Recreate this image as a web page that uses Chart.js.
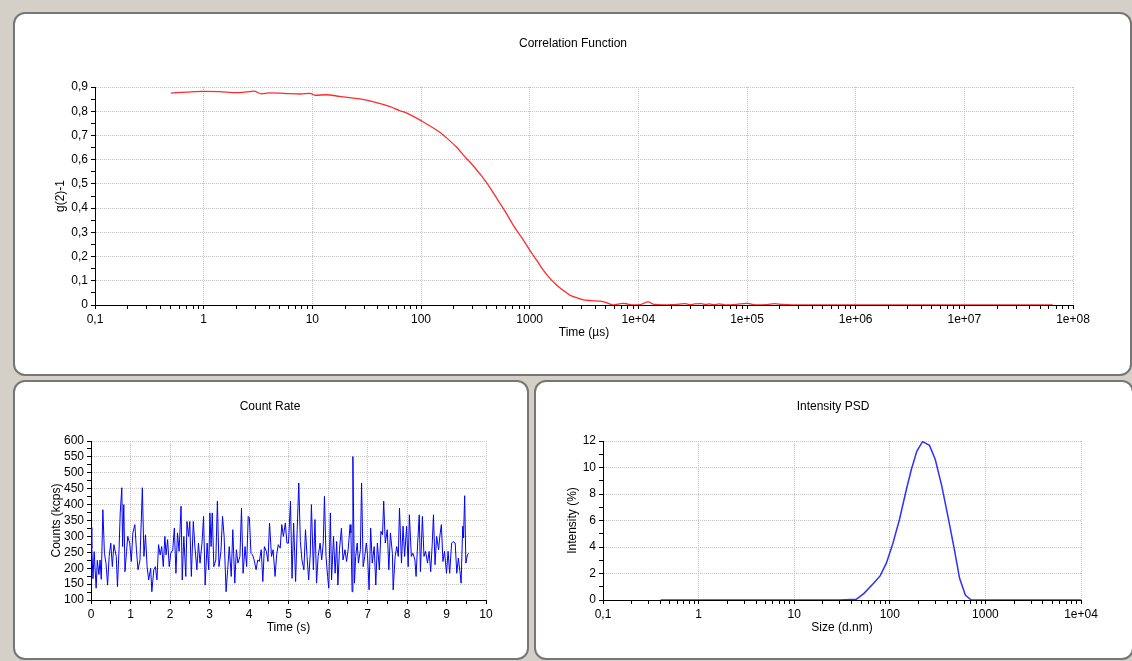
<!DOCTYPE html>
<html>
<head>
<meta charset="utf-8">
<title>Size measurement report</title>
<script src="https://cdn.jsdelivr.net/npm/chart.js@4.4.1/dist/chart.umd.min.js"></script>
<style>
    html, body { margin: 0; padding: 0; }
    body {
        width: 1132px; height: 661px; overflow: hidden; position: relative;
        background: #d4d0c8;
        font-family: 'Liberation Sans', Arial, sans-serif;
    }
    .panel {
        position: absolute; background: #fff; box-sizing: border-box;
        border: 2px solid #767676; border-radius: 12px;
    }
    canvas { position: absolute; }
</style>
</head>
<body>
<div class="panel" style="left:13px;top:12px;width:1119px;height:364px"></div>
<div class="panel" style="left:13px;top:380px;width:516px;height:280px"></div>
<div class="panel" style="left:534px;top:380px;width:600px;height:280px"></div>

<canvas id="corrChart" width="1106" height="331" style="left:20px;top:14px"></canvas>
<canvas id="countChart" width="500" height="258" style="left:20px;top:382px"></canvas>
<canvas id="psdChart" width="576" height="258" style="left:545px;top:382px"></canvas>

<script>
// ============================================
// DATA
// ============================================

// Correlation function: delay time (µs) vs g(2)-1
const corrTime = [0.5, 0.7, 1, 1.4, 2, 2.5, 2.9, 3.4, 4, 5,
    6, 7.7, 9.5, 10.6, 13.5, 17.9, 22, 27.4, 36, 52,
    64, 74, 100, 149, 172, 212, 262, 302, 350, 401,
    460, 532, 610, 705, 840, 1000, 1160, 1330, 1520, 1766,
    2040, 2344, 2700, 3107, 3700, 4430, 5090, 5870, 6500, 7250,
    8000, 8950, 10500, 12300, 14000, 17000, 20000, 24000, 27000, 30000,
    33000, 38000, 42000, 45000, 50000, 55000, 65000, 80000, 100000, 120000,
    150000, 180000, 210000, 260000, 400000, 1e6, 1e7, 6.5e7];
const corrValue = [0.875, 0.879, 0.882, 0.881, 0.877, 0.880, 0.883, 0.872, 0.876, 0.875,
    0.873, 0.871, 0.874, 0.866, 0.868, 0.861, 0.856, 0.851, 0.840, 0.819,
    0.802, 0.792, 0.761, 0.713, 0.690, 0.652, 0.605, 0.575, 0.540, 0.505,
    0.465, 0.420, 0.378, 0.330, 0.280, 0.227, 0.185, 0.145, 0.112, 0.083,
    0.060, 0.041, 0.030, 0.021, 0.018, 0.016, 0.010, 0.000, 0.004, 0.007,
    0.004, 0.000, 0.002, 0.013, 0.002, 0.000, 0.001, 0.004, 0.006, 0.001,
    0.005, 0.006, 0.002, 0.005, 0.001, 0.005, 0.000, 0.003, 0.007, 0.000,
    0.001, 0.006, 0.002, 0.000, 0.000, 0.000, 0.000, 0.000];
const corrXLabels = ['0,1', '1', '10', '100', '1000', '1e+04', '1e+05', '1e+06', '1e+07', '1e+08'];
const corrYLabels = ['0', '0,1', '0,2', '0,3', '0,4', '0,5', '0,6', '0,7', '0,8', '0,9'];

// Count rate: time (s) vs counts (kcps)
const crTime = [0.00, 0.02, 0.05, 0.08, 0.13, 0.16, 0.20, 0.23, 0.26, 0.30,
    0.34, 0.38, 0.42, 0.46, 0.50, 0.54, 0.58, 0.64, 0.67, 0.71,
    0.74, 0.78, 0.80, 0.83, 0.86, 0.90, 0.93, 0.98, 1.02, 1.06,
    1.11, 1.15, 1.19, 1.24, 1.30, 1.34, 1.38, 1.42, 1.46, 1.51,
    1.54, 1.59, 1.63, 1.67, 1.71, 1.75, 1.79, 1.83, 1.87, 1.90,
    1.94, 1.98, 2.02, 2.07, 2.11, 2.15, 2.19, 2.23, 2.28, 2.31,
    2.35, 2.40, 2.43, 2.47, 2.50, 2.54, 2.59, 2.63, 2.68, 2.72,
    2.76, 2.81, 2.85, 2.89, 2.94, 2.98, 3.01, 3.04, 3.07, 3.11,
    3.16, 3.20, 3.24, 3.29, 3.33, 3.37, 3.42, 3.46, 3.50, 3.55,
    3.59, 3.64, 3.68, 3.72, 3.77, 3.81, 3.85, 3.90, 3.94, 3.98,
    4.01, 4.05, 4.09, 4.13, 4.18, 4.22, 4.26, 4.31, 4.35, 4.39,
    4.44, 4.48, 4.52, 4.57, 4.61, 4.66, 4.70, 4.74, 4.79, 4.83,
    4.87, 4.92, 4.96, 5.00, 5.05, 5.09, 5.13, 5.18, 5.22, 5.26,
    5.30, 5.34, 5.39, 5.43, 5.47, 5.51, 5.55, 5.58, 5.63, 5.67,
    5.71, 5.75, 5.80, 5.84, 5.88, 5.91, 5.95, 5.99, 6.02, 6.06,
    6.09, 6.14, 6.18, 6.22, 6.25, 6.29, 6.34, 6.38, 6.43, 6.47,
    6.51, 6.56, 6.58, 6.61, 6.63, 6.67, 6.70, 6.74, 6.77, 6.82,
    6.85, 6.89, 6.93, 6.97, 7.00, 7.04, 7.08, 7.12, 7.17, 7.21,
    7.25, 7.30, 7.34, 7.38, 7.41, 7.45, 7.50, 7.54, 7.58, 7.63,
    7.65, 7.70, 7.74, 7.78, 7.81, 7.86, 7.90, 7.94, 7.99, 8.03,
    8.06, 8.11, 8.15, 8.20, 8.23, 8.27, 8.31, 8.34, 8.39, 8.43,
    8.47, 8.52, 8.56, 8.60, 8.64, 8.67, 8.71, 8.75, 8.80, 8.83,
    8.87, 8.91, 8.95, 9.00, 9.04, 9.08, 9.13, 9.17, 9.22, 9.26,
    9.30, 9.35, 9.37, 9.41, 9.43, 9.46, 9.49, 9.53, 9.56];
const crCounts = [328, 262, 167, 252, 137, 225, 180, 226, 165, 384,
    247, 215, 147, 237, 279, 205, 274, 237, 142, 258,
    374, 453, 268, 400, 189, 253, 300, 279, 221, 311,
    337, 258, 195, 226, 453, 237, 305, 205, 163, 200,
    126, 195, 205, 163, 274, 242, 268, 205, 300, 242,
    290, 205, 247, 258, 326, 184, 311, 253, 395, 163,
    300, 174, 347, 300, 347, 174, 347, 268, 195, 279,
    216, 279, 363, 147, 279, 195, 374, 268, 374, 205,
    226, 411, 205, 253, 363, 300, 126, 195, 268, 174,
    321, 153, 258, 216, 237, 389, 184, 268, 205, 363,
    358, 247, 242, 226, 195, 226, 221, 258, 158, 268,
    253, 221, 342, 237, 258, 174, 242, 274, 263, 337,
    300, 342, 279, 279, 411, 168, 342, 158, 321, 468,
    284, 226, 195, 321, 237, 163, 242, 400, 195, 353,
    153, 237, 279, 226, 279, 426, 237, 174, 137, 374,
    163, 300, 184, 284, 147, 258, 326, 226, 258, 221,
    258, 337, 311, 126, 551, 153, 237, 279, 216, 258,
    468, 205, 237, 279, 242, 132, 326, 216, 268, 147,
    279, 195, 316, 305, 411, 279, 321, 195, 311, 247,
    132, 237, 268, 237, 389, 216, 332, 237, 332, 205,
    368, 237, 247, 226, 174, 279, 368, 189, 363, 237,
    253, 216, 253, 189, 279, 368, 211, 300, 258, 300,
    337, 221, 253, 184, 253, 184, 279, 284, 279, 184,
    232, 179, 153, 332, 295, 428, 216, 242, 247];
const crXLabels = ['0', '1', '2', '3', '4', '5', '6', '7', '8', '9', '10'];
const crYLabels = ['100', '150', '200', '250', '300', '350', '400', '450', '500', '550', '600'];

// Intensity PSD: size (d.nm) vs intensity (%)
const psdSize = [0.4, 1, 10, 30, 44.6, 53.7, 67.7, 79.2, 92, 108,
    126, 149, 168, 192, 220, 260, 299, 350, 406, 467,
    537, 617, 709, 1000, 10000];
const psdIntensity = [0, 0, 0, 0, 0.05, 0.5, 1.26, 1.82, 2.78, 4.3,
    6.06, 8.34, 9.85, 11.24, 11.95, 11.67, 10.6, 8.6, 6.3, 4.04,
    1.64, 0.38, 0, 0, 0];
const psdXLabels = ['0,1', '1', '10', '100', '1000', '1e+04'];
const psdYLabels = ['0', '2', '4', '6', '8', '10', '12'];

// ============================================
// HELPERS
// ============================================

const GRID_COLOR = '#c2c2c2';

Chart.defaults.font.family = "'Liberation Sans', Arial, sans-serif";
Chart.defaults.font.size = 12;
Chart.defaults.color = '#000';

function isDecade(v) {
    const l = Math.log10(v);
    return Math.abs(l - Math.round(l)) < 1e-9;
}

// 1..9 x 10^e for every decade, so the minor tick marks show
function decadeTicks(lo, hi) {
    const out = [];
    for (let e = lo; e < hi; e++) {
        for (let k = 1; k < 10; k++) out.push({ value: k * Math.pow(10, e) });
    }
    out.push({ value: Math.pow(10, hi) });
    return out;
}

function logLabeler(labels, lo) {
    return v => isDecade(v) ? labels[Math.round(Math.log10(v)) - lo] : '';
}

function stepLabeler(labels, start, step) {
    return v => {
        const i = Math.round((v - start) / step);
        return Math.abs(v - start - i * step) < 1e-6 ? (labels[i] || '') : '';
    };
}

function axisBase(labelFn) {
    return {
        grid: {
            color: c => (c.tick && labelFn(c.tick.value) !== '') ? GRID_COLOR : 'rgba(0,0,0,0)',
            tickColor: '#000',
            tickLength: 4,
            lineWidth: 1
        },
        border: { color: '#000', width: 1, dash: [1, 1] },
        ticks: { autoSkip: false, maxRotation: 0, minRotation: 0, padding: 3, callback: v => labelFn(v) }
    };
}

function makePlot(id, p) {
    const xBase = axisBase(p.xLabel);
    const yBase = axisBase(p.yLabel);

    const xAxis = Object.assign(xBase, {
        type: p.xType,
        min: p.xMin,
        max: p.xMax,
        title: { display: true, text: p.xTitle, padding: { top: 0, bottom: 5 } },
        afterFit: s => { s.height = 40; }
    });
    if (p.xType === 'logarithmic') {
        xAxis.afterBuildTicks = s => { s.ticks = decadeTicks(p.xDecLo, p.xDecHi); };
    } else {
        xAxis.ticks.stepSize = p.xStep;
    }

    const yAxis = Object.assign(yBase, {
        type: 'linear',
        position: 'left',
        min: p.yMin,
        max: p.yMax,
        title: { display: true, text: p.yTitle, padding: { top: p.yTitlePad, bottom: 0 } },
        afterFit: s => { s.width = p.yWidth; }
    });
    yAxis.ticks.stepSize = p.yStep;

    return new Chart(document.getElementById(id), {
        type: 'line',
        data: {
            datasets: [{
                data: p.xs.map((x, i) => ({ x: x, y: p.ys[i] })),
                borderColor: p.color,
                borderWidth: p.lineWidth,
                pointRadius: 0,
                fill: false,
                tension: 0,
                cubicInterpolationMode: p.smooth ? 'monotone' : 'default',
                xAxisID: 'x',
                yAxisID: 'y'
            }]
        },
        options: {
            responsive: false,
            animation: false,
            devicePixelRatio: 1,
            layout: { padding: 0 },
            plugins: {
                legend: { display: false },
                tooltip: { enabled: false },
                title: {
                    display: true,
                    text: p.title,
                    font: { size: 12, weight: 'normal' },
                    color: '#000',
                    padding: { top: p.titleTop, bottom: p.titleBottom }
                }
            },
            scales: {
                x: xAxis,
                y: yAxis,
                // empty right-hand box so the title centres like the original
                yR: {
                    type: 'linear',
                    position: 'right',
                    grid: { display: false },
                    ticks: { display: false },
                    border: { display: false },
                    afterFit: s => { s.width = p.rightWidth; }
                }
            }
        }
    });
}

// ============================================
// CHARTS
// ============================================

makePlot('corrChart', {
    title: 'Correlation Function',
    titleTop: 22, titleBottom: 36.6,
    xs: corrTime, ys: corrValue,
    color: 'rgba(255, 20, 20, 0.9)', lineWidth: 1.3, smooth: true,
    xType: 'logarithmic', xMin: 0.1, xMax: 1e8, xDecLo: -1, xDecHi: 8,
    xLabel: logLabeler(corrXLabels, -1),
    xTitle: 'Time (µs)',
    yMin: 0, yMax: 0.9, yStep: 0.05,
    yLabel: stepLabeler(corrYLabels, 0, 0.1),
    yTitle: 'g(2)-1', yTitlePad: 33.8,
    yWidth: 75, rightWidth: 53
});

makePlot('countChart', {
    title: 'Count Rate',
    titleTop: 17.8, titleBottom: 26.8,
    xs: crTime, ys: crCounts,
    color: '#0000ff', lineWidth: 1,
    xType: 'linear', xMin: 0, xMax: 10, xStep: 0.5,
    xLabel: stepLabeler(crXLabels, 0, 1),
    xTitle: 'Time (s)',
    yMin: 100, yMax: 600, yStep: 25,
    yLabel: stepLabeler(crYLabels, 100, 50),
    yTitle: 'Counts (kcps)', yTitlePad: 29.8,
    yWidth: 71, rightWidth: 34
});

makePlot('psdChart', {
    title: 'Intensity PSD',
    titleTop: 17.8, titleBottom: 26.8,
    xs: psdSize, ys: psdIntensity,
    color: '#3030ff', lineWidth: 1.5,
    xType: 'logarithmic', xMin: 0.1, xMax: 1e4, xDecLo: -1, xDecHi: 4,
    xLabel: logLabeler(psdXLabels, -1),
    xTitle: 'Size (d.nm)',
    yMin: 0, yMax: 12, yStep: 1,
    yLabel: stepLabeler(psdYLabels, 0, 2),
    yTitle: 'Intensity (%)', yTitlePad: 20.8,
    yWidth: 58, rightWidth: 40
});
</script>
</body>
</html>
